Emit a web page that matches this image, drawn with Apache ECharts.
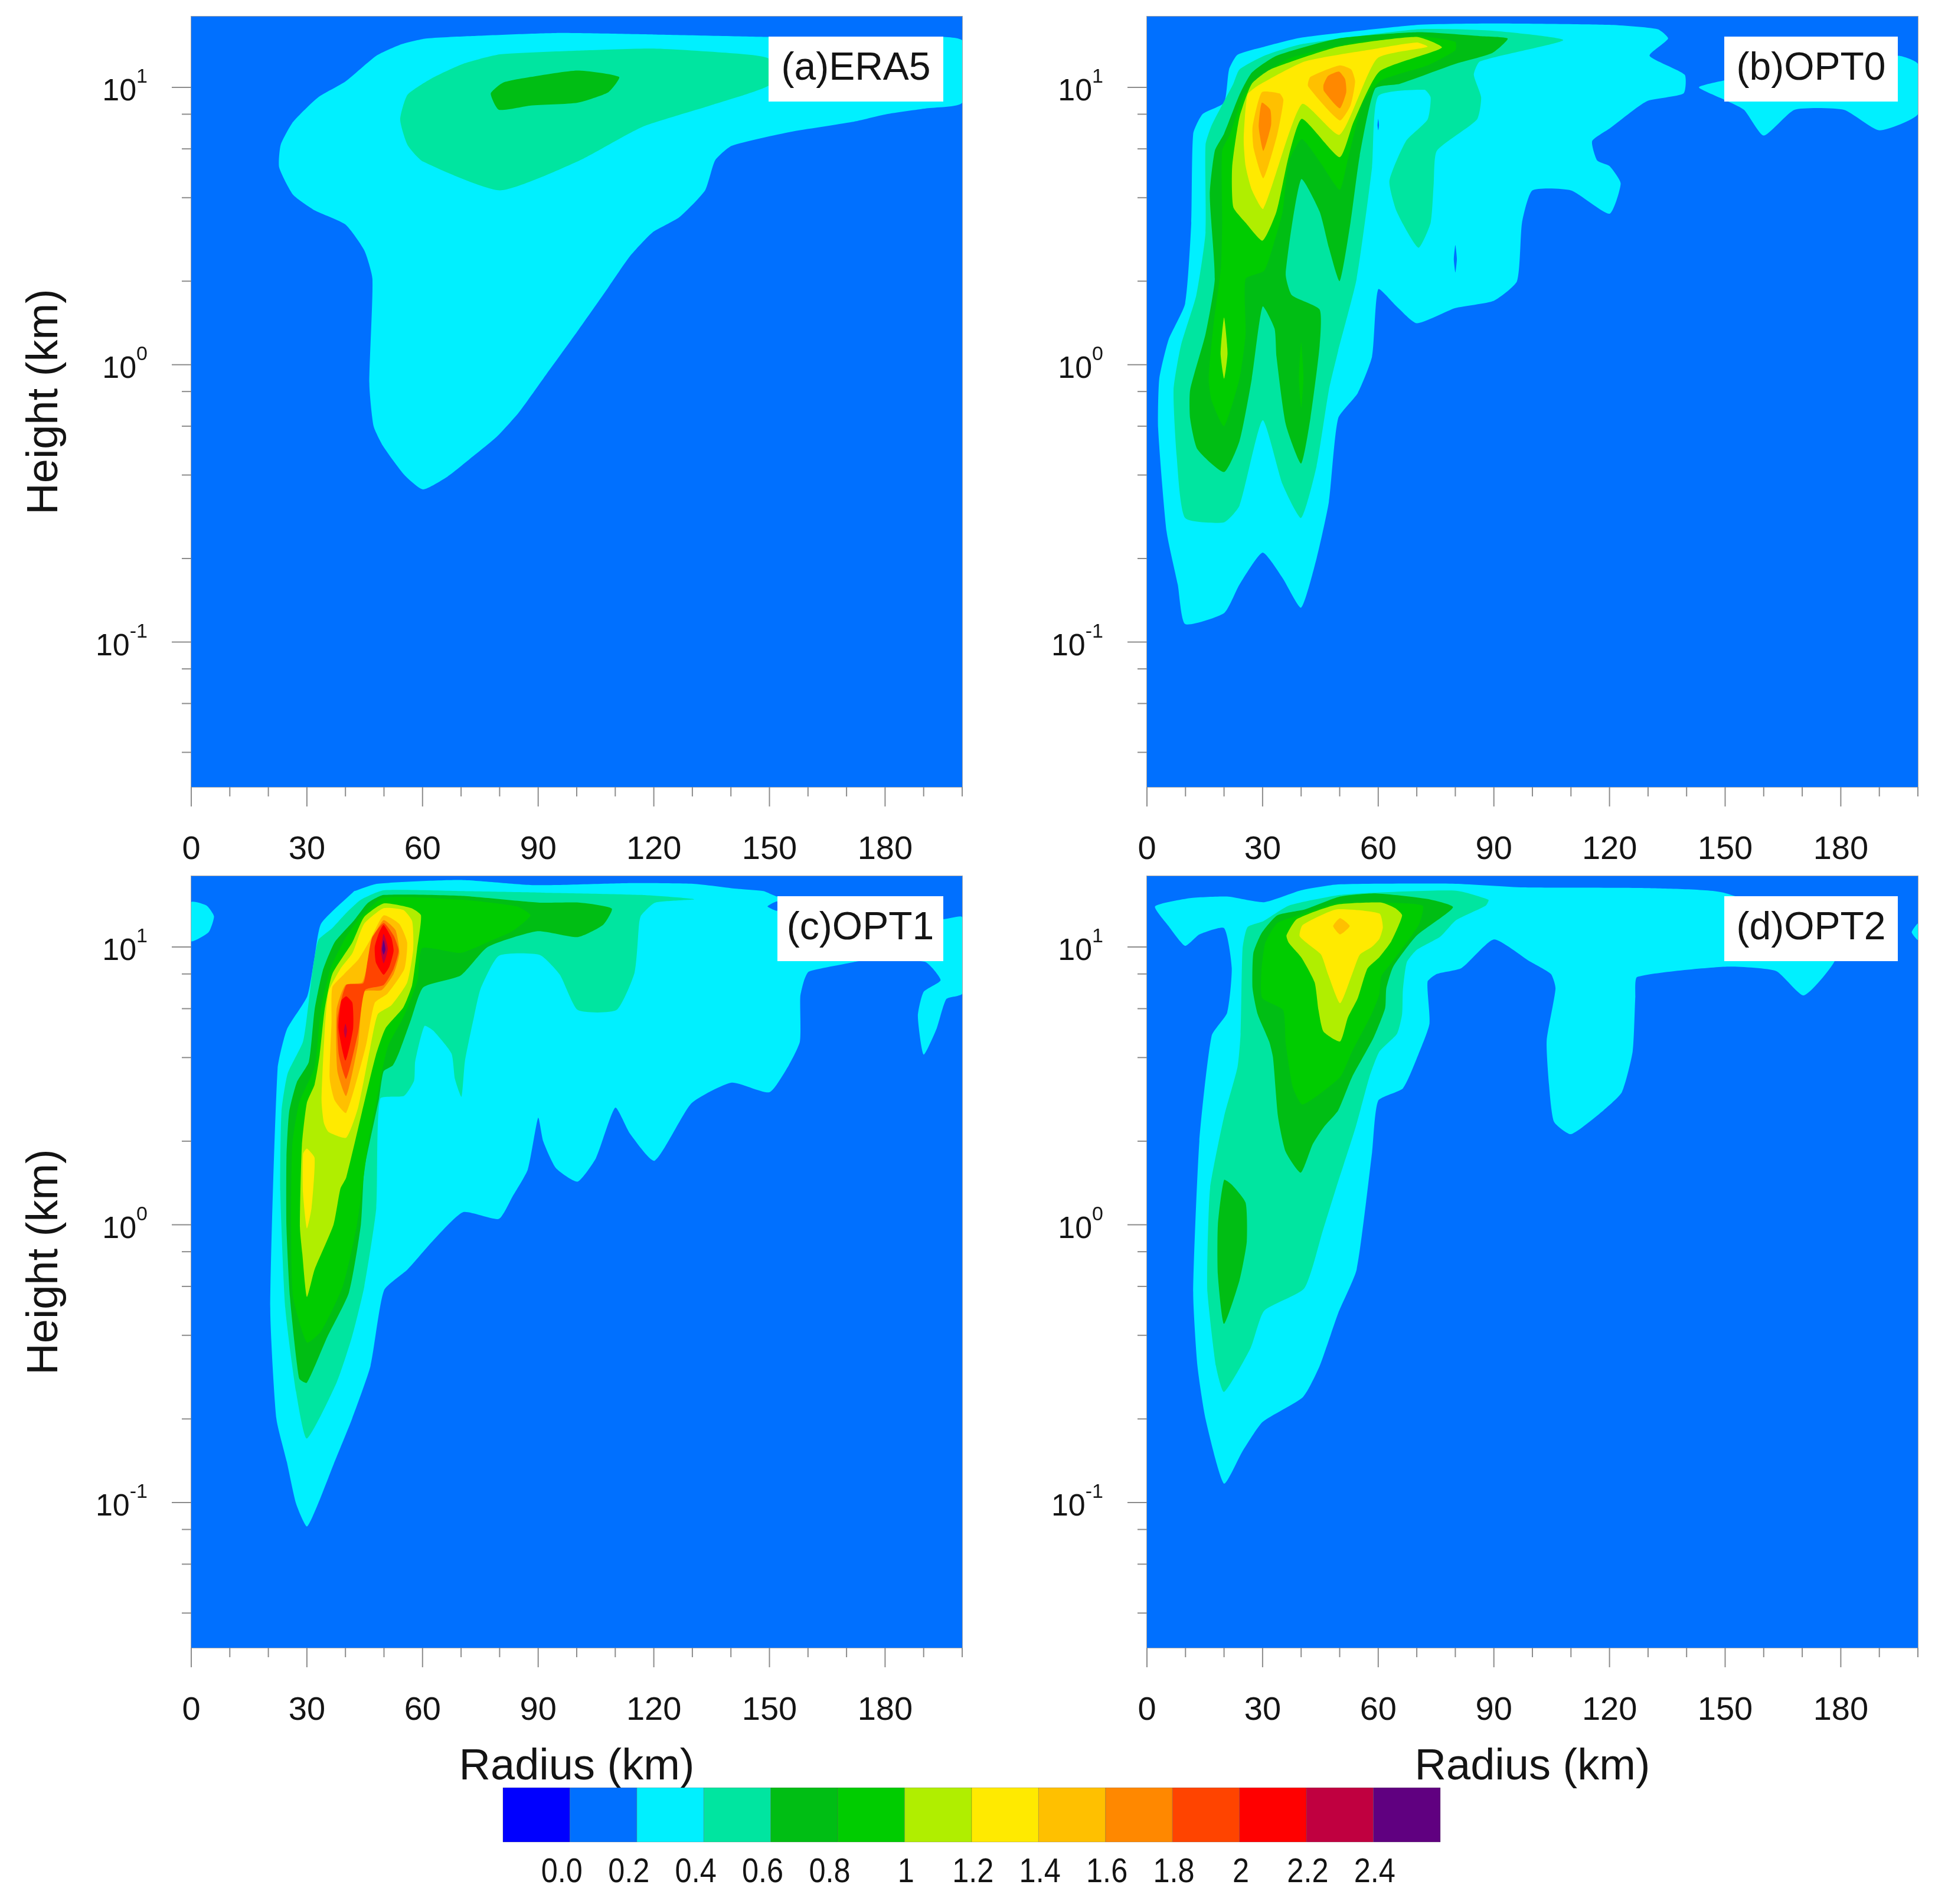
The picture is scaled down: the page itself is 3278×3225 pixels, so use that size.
<!DOCTYPE html>
<html>
<head>
<meta charset="utf-8">
<style>html,body{margin:0;padding:0;background:#fff}#c{width:3278px;height:3225px}</style>
<script src="https://cdn.jsdelivr.net/npm/echarts@6/dist/echarts.min.js"></script>
</head>
<body>
<div id="c"></div>
<script>
const levelColors = ['#0000FF','#0070FF','#00F0FF','#00E5A0','#00BE14','#00CC00','#B0EE00','#FFEA00','#FFC000','#FF8800','#FF4400','#FF0000','#C00040','#600080'];
const levelLabels = ['0.0','0.2','0.4','0.6','0.8','1','1.2','1.4','1.6','1.8','2','2.2','2.4'];
const radiusRange = [0, 200];
const heightRange = [0.03, 18];
const radiusMajorTicks = [0,30,60,90,120,150,180];
const radiusMinorTicks = [10,20,40,50,70,80,100,110,130,140,160,170,190,200];
const heightMajorTicks = [0.1,1,10];
const heightMinorTicks = [0.04,0.06,0.08,0.2,0.4,0.6,0.8,2,4,6,8];
const panelNames = ['(a)ERA5','(b)OPT0','(c)OPT1','(d)OPT2'];

// Each entry: [colour level, [[radius km, height km], ...]]
const contoursERA5 = [
 [2,[[60.9,15],[72,15.3],[94.6,15.7],[120,15.5],[149,15.2],[175,15],[200,14.8],[200,8.8],[190.7,8.4],[180.3,8],[171.5,7.5],[155.4,6.9],[140.2,6.15],[135.9,5.45],[133.3,4.25],[126.6,3.4],[119.7,3],[113.8,2.46],[108.2,1.9],[100.2,1.32],[91.3,.89],[84.9,.67],[79.3,.55],[72.1,.455],[66.5,.395],[60.1,.355],[55.3,.4],[49.7,.51],[47.3,.6],[46.2,.85],[47,2.04],[44.9,2.58],[40,3.2],[32,3.6],[26.4,4.1],[22.8,5.15],[23.2,6.2],[26.4,7.5],[32.9,9.2],[40,10.5],[48,13],[54.5,14.3]]],
 [3,[[80.1,13.15],[102.6,13.6],[120,13.8],[139.4,13.3],[149.8,12.7],[150.6,10.3],[134.6,8.6],[117,7.2],[100.2,5.4],[80.1,4.25],[60.1,5.4],[56.1,6.2],[54.2,7.65],[56.1,9.4],[62.5,10.8],[70.5,12.15]]],
 [4,[[79.8,8.3],[77.7,9.5],[80.9,10.4],[88.1,10.9],[100.2,11.5],[111,10.9],[108.2,9.6],[100.2,8.8],[88.1,8.6]]]
];
const contoursOPT0 = [
 [2,[[9.9,.116],[20,.127],[24,.161],[30,.21],[35.2,.17],[40,.133],[44,.2],[47.2,.32],[49.6,.64],[54.7,.79],[58.4,1.07],[60,1.87],[64.8,1.62],[70,1.41],[80,1.6],[90,1.7],[96,2],[97.3,3.25],[100,4.25],[110,4.25],[120,3.5],[122.9,4.5],[120,5.2],[116.8,5.45],[115.5,6.4],[120,7.1],[129.6,8.9],[139.2,9.5],[139.5,11.1],[130.4,13],[135.2,15],[132.5,16.2],[120,16.8],[89.6,17],[70.4,16.8],[40,15.1],[30.4,14],[23.5,13.1],[21.3,11.6],[20,8.8],[14.4,8],[12,6.8],[11.5,3.25],[9.9,1.66],[5.6,1.23],[3.2,.89],[2.9,.59],[5.1,.25],[8,.161]]],
 [2,[[143.2,10],[150,10.6],[175,12],[195,13],[200,12.15],[200,8],[190,7],[180.8,8.3],[168,8.3],[160,6.7],[154.9,8.3],[150,9]]],
 [1,[[80,2.7],[80.4,2.4],[80,2.15],[79.6,2.4]]],
 [1,[[60,7.7],[60.2,7.3],[60,7],[59.8,7.3]]],
 [3,[[16.8,7.3],[22.4,10.3],[24,11.6],[30.4,13],[40,14.3],[70.4,16.2],[89.6,16],[108,14.8],[86.4,12.4],[84.8,11.1],[86.7,9.2],[85.6,7.65],[75.2,5.9],[74.4,4.5],[73.6,3.25],[70.4,2.64],[64.8,3.56],[62.9,4.6],[67.2,6.4],[72.8,7.65],[73.6,9.2],[72,9.8],[60,9.3],[58.4,5.15],[54.4,2.04],[49.6,1.12],[47.2,.81],[44,.43],[40,.28],[35.2,.37],[30,.63],[24,.31],[20,.27],[9.9,.28],[7.7,.47],[6.9,.81],[8.8,1.17],[12.8,1.78],[15.2,3],[15.2,6.2]]],
 [4,[[13.1,.495],[20,.41],[24,.53],[27.2,.89],[30,1.62],[33.1,1.35],[33.6,1.07],[36,.61],[40,.44],[42.4,.64],[44.8,1.17],[44.8,1.58],[37.6,1.78],[36,2.13],[40,4.66],[44.8,3.56],[47.2,2.64],[50,2],[52.8,3.25],[55.2,5.66],[59.2,9.9],[65.6,10.3],[80,12.15],[89.6,13.3],[93.6,15],[86.4,15.3],[70.4,15.8],[49.6,15],[33.6,13],[27.2,11.3],[24,9.4],[20,6.8],[17.6,5.9],[16.3,4.1],[17.6,2.04],[15.2,1.29],[11.2,.81],[11.2,.64]]],
 [5,[[20,.6],[24,.89],[25.6,1.29],[25.6,2.04],[30.4,2.18],[32.8,2.7],[35.2,3.56],[36.8,5.4],[40.2,6.5],[44.8,5.4],[50,4.27],[52,5.4],[56,8.8],[60.8,10.6],[72.8,12],[80,13.6],[80,14.6],[70.4,15.3],[52.8,14.4],[36.8,12.7],[28,10.6],[24.8,9.2],[21.6,6.8],[19.5,5.9],[19.5,3.25],[19.2,2.24],[17.3,1.41],[16,.89],[16.8,.74]]],
 [5,[[40,1.2],[40.6,.9],[40,.7],[39.4,.9]]],
 [6,[[30,2.8],[33.6,3.56],[36.8,5.66],[40.2,7.7],[50,5.6],[53.6,7.5],[60.3,11.4],[76.5,13.9],[70,15.2],[49.6,14],[32,11.6],[27.2,10.3],[24,7.8],[22.1,5.15],[22.4,3.7],[25.6,3.25]]],
 [6,[[20,1.48],[20.9,1.1],[20,.89],[19.1,1.1]]],
 [7,[[30.2,3.65],[40.2,8.7],[50,6.75],[59.7,12.7],[72.8,14],[70,14.5],[59.7,13.8],[41,12.4],[29.1,10.2],[26.1,9.4],[25.1,6.5],[25.6,5.2],[27.2,4.27]]],
 [8,[[30.2,4.7],[27.7,6],[27.4,7.2],[29.8,9.6],[34.4,9.5],[35.4,9],[33.8,6.75]]],
 [8,[[50,7.6],[41.8,10.1],[42.4,10.9],[50,12],[53,11.6],[54,10.5],[52.8,8.6]]],
 [9,[[30.2,5.9],[29,7.2],[29.8,8.8],[32,8.3],[32.2,7.3]]],
 [9,[[50,8.4],[45.9,9.7],[45.8,10.2],[47,11],[49.8,11.4],[51.4,10.7],[51.7,9.6]]]
];
const contoursOPT1 = [
 [2,[[42.3,15.9],[48.2,16.9],[69.8,17.44],[89.2,16.7],[114.4,17],[130.2,16.9],[141.8,16.2],[148.4,15.9],[152,15.2],[195.2,12.6],[200,12.8],[200,6.8],[195.9,6.5],[193.4,5.1],[190,4.1],[188.5,5.65],[190,6.9],[194.4,7.6],[190.3,8.85],[173.4,8.9],[171.4,8.8],[160.2,8.16],[159,7.6],[158,6.63],[157.9,4.57],[155,3.75],[150,3],[140.2,3.25],[129.8,2.74],[120.2,1.7],[113.8,2.13],[110,2.64],[105,1.74],[100.2,1.43],[94.6,1.6],[91.3,2],[90,2.43],[87.3,1.58],[83.3,1.26],[79.8,1.05],[70.5,1.11],[62.5,.87],[56.1,.69],[50,.58],[46.5,.31],[41.7,.2],[36.9,.137],[32.9,.099],[30,.082],[27.2,.099],[24.8,.14],[22.1,.2],[20.5,.5],[22.4,3.65],[24.8,5.05],[30.1,6.65],[32,9.2],[33.7,12.15],[42.5,16]]],
 [2,[[0,14.5],[4,14.1],[5.9,12.9],[4.5,11.3],[0,10.5]]],
 [1,[[149.5,14],[152,14.6],[152,13.5]]],
 [3,[[49,2.84],[55.2,2.91],[57.8,3.3],[58.1,3.88],[60.5,5.2],[62.8,5],[67.5,4.14],[68.4,3.35],[70.1,2.89],[71,3.88],[73.4,5.65],[75.1,7.1],[79.8,9.3],[90.4,9.37],[95.6,7.96],[100.3,5.93],[110.3,5.93],[115,8.09],[116.2,12.2],[116.7,13],[120.3,14.45],[130.5,14.86],[116.7,15.4],[91,15.7],[69.9,15.9],[49.9,16],[44,14.8],[40.3,13.3],[36.6,11.7],[33,10.6],[31.5,8.3],[30.5,6.4],[29,4.57],[25,3.5],[23.4,2.55],[23.1,1.32],[24.4,.5],[27.2,.25],[30,.17],[37.7,.27],[41.7,.395],[44.9,.6],[48,1.15]]],
 [4,[[49.9,3.57],[52.3,3.75],[54,4.2],[57,5.47],[60.2,7.16],[69.9,7.9],[76.9,10],[89.8,11.4],[100.3,10.86],[106.8,12],[109.1,13.76],[100.9,14.45],[90.4,14.45],[69.9,15.3],[49.9,15.4],[45.8,14.4],[42.3,12.5],[37.2,10.4],[34.1,8.2],[32,5.95],[30.5,3.86],[27.4,3.26],[25.4,2.55],[24.7,1.75],[24.7,.98],[25.6,.55],[28,.28],[30,.27],[35.3,.395],[40.9,.57],[44,1],[44.9,1.58],[48.7,2.84]]],
 [5,[[48.2,2.84],[49.6,3.63],[51.1,4.42],[55.2,5.65],[58.7,7.58],[59.9,9.9],[69.9,9.53],[77.5,10.5],[83.3,11.4],[88,13],[84.5,14],[70.4,14.8],[49.9,15.06],[43.8,12.8],[39.7,10.6],[36.1,8.35],[33.6,5.95],[32,3.7],[28,2.75],[26.2,1.93],[25.9,.98],[26.4,.55],[30,.377],[33.7,.414],[39.3,.6],[43,1],[46,2]]],
 [6,[[49.9,14.35],[57.1,13.8],[59.6,13],[58.6,9.86],[57.3,7.3],[55,6.06],[50.4,5.1],[47.9,4.08],[44.3,2.55],[40.2,1.48],[38.7,1.35],[36.9,1],[32,.69],[30,.55],[28.8,.79],[28.2,.98],[28.7,1.93],[30,2.75],[32,3.2],[33.3,4.08],[34.6,5.95],[36.6,8],[41.8,10.4],[44.8,12.8]]],
 [7,[[40.2,2.06],[35.6,2.16],[34.4,2.33],[33.8,2.81],[34.6,4.93],[35.6,6.9],[38.7,8.35],[41.8,9.5],[44.8,12.1],[49.9,13.8],[55,13.6],[57.3,12.4],[57.6,9.86],[56,7.45],[51.9,6.17],[48.4,5.73],[46.4,4.32],[43.3,2.65]]],
 [7,[[30,1.88],[32,1.74],[31.2,1.15],[30,.97],[29,1.3],[29,1.8]]],
 [8,[[40.2,2.53],[37.2,2.81],[35.9,3.38],[36.4,5.4],[36.6,7.17],[39.7,8],[43.3,9],[46.4,10.6],[49.9,13],[54,12.1],[56,10.4],[55.3,8.35],[50.9,6.8],[47.6,6.3],[45.3,4.4]]],
 [9,[[40.2,2.91],[37.9,3.58],[37.7,5.95],[40,7.3],[44.3,7.45],[45.3,8.2],[46.9,10.6],[49.9,12.5],[53,11.5],[54,9.5],[52.5,8],[49.4,7],[44.8,6.9],[43.3,4.49]]],
 [10,[[40.2,3.35],[38.3,4.08],[37.9,5.5],[40.2,7.3],[44.6,7.4],[45.6,8.65],[46.9,10.8],[49.9,12.2],[52.5,11],[53.8,9.7],[52.5,8.35],[49.9,7.3],[45.1,7],[43.3,4.93]]],
 [11,[[49.9,7.95],[47.9,8.8],[47.6,10],[48.7,11.25],[49.9,12],[51.9,10.8],[52.5,9.7],[51.4,8.5]]],
 [11,[[40,3.9],[38.2,5.1],[38.9,6.4],[40.2,6.65],[41.8,6.3],[42,5.1]]],
 [12,[[49.9,8.73],[49.2,9.7],[49.9,11.15],[51,9.86]]],
 [13,[[49.9,9.4],[49.5,9.8],[49.9,10.6],[50.4,9.8]]],
 [12,[[40,5.3],[39.6,5],[40,4.7],[40.4,5]]]
];
const contoursOPT2 = [
 [2,[[2.1,14],[11.2,15],[20.8,15.2],[30.4,14.5],[40,16],[49.6,16.8],[80,16.9],[97.6,16.4],[129.6,16.3],[149.6,15.7],[177.6,11],[178.4,8.9],[170.4,6.7],[163.2,8.2],[150.4,8.5],[127.2,7.8],[126.7,6.65],[126,4.2],[123.2,3],[118.4,2.58],[110,2.12],[105.6,2.35],[104.3,3.2],[103.7,4.6],[106,7.1],[104.8,8],[99.2,8.9],[90,10.65],[81.6,8.4],[75.2,8],[72.8,7.5],[73.3,5.3],[70.4,4.1],[66.4,3.1],[60,2.8],[58.4,1.82],[54.4,.69],[49.6,.48],[44.8,.31],[40.5,.24],[30,.195],[24.8,.153],[20,.117],[15.2,.2],[13.1,.31],[12,.57],[13.6,2],[16.8,4.8],[20.8,5.8],[22,8.4],[20,11.7],[13.6,11.1],[9.9,10.1],[5.6,11.9]]],
 [2,[[200,12.15],[198.4,11.3],[200,10.6]]],
 [3,[[88.6,14.8],[87.9,14.1],[80.2,12.5],[76.1,10.9],[70,9.77],[67.4,8.8],[66.4,7],[66.2,5.74],[64.9,4.88],[60.3,4.2],[57.7,3.4],[54.2,2.26],[49.1,1.36],[45.6,.95],[40.8,.59],[30.4,.49],[26.9,.36],[20,.25],[17.9,.31],[15.7,.57],[15.7,.79],[16.4,1.36],[20,2.45],[23.5,3.7],[24.3,4.88],[24.8,9.85],[26.1,11.8],[30.2,12.4],[36.8,14.1],[50.1,15.4],[59.3,15.7],[80.2,15.95]]],
 [4,[[79.4,13.9],[72.6,14.9],[59.3,15.6],[50.1,15.2],[40.9,13.65],[33.8,13],[29.7,11.2],[27.6,9.5],[27.4,7.1],[28.7,5.74],[31.7,4.57],[32.7,4],[34,2.45],[36,1.83],[39.9,1.54],[43,1.95],[46,2.26],[49.6,2.58],[53.2,3.4],[58.8,4.72],[61.8,6.03],[62.1,7.1],[63.9,8.5],[70,11]]],
 [4,[[20,1.45],[22.1,1.39],[25.6,1.2],[25.9,.87],[24,.63],[20,.44],[18.4,.66],[18.4,1]]],
 [5,[[40.4,2.71],[50.1,3.4],[53.2,4.2],[58.3,5.74],[60.3,6.76],[60.8,7.84],[63.9,8.93],[70.5,12],[71.5,14.1],[59.3,14.46],[49.1,14.34],[39.9,13.1],[33.8,12.2],[30.7,10.35],[29.7,8.23],[29.9,6.55],[35.3,5.93],[36,4.5],[37.8,3.14]]],
 [6,[[50.1,4.57],[45.8,4.96],[44.5,5.93],[43.5,7.46],[40.1,9.15],[36.8,10.35],[36.2,11],[38.9,12.6],[49.1,14.2],[60.8,14.46],[64.4,13.8],[66.2,13],[63.4,10.5],[60.3,9.2],[57.2,8.37],[54.7,6.55],[52.1,5.56]]],
 [7,[[50.1,6.28],[47,7.97],[45.2,9.38],[42.4,10.1],[39.6,10.95],[40.4,12],[49.1,13.65],[60.3,13.2],[61.2,11.8],[60.3,10.7],[58.3,10],[55.2,9.38],[53.2,7.97]]],
 [8,[[50.1,12.7],[52.6,11.9],[50.1,11.1],[48.3,11.9]]]
];
const panelContours = [contoursERA5, contoursOPT0, contoursOPT1, contoursOPT2];

const panelBoxes = [
 {left:324, top:28, width:1306, height:1305},
 {left:1943, top:28, width:1306, height:1305},
 {left:324, top:1484, width:1306, height:1307},
 {left:1943, top:1484, width:1306, height:1307}
];
const labelBoxes = [[1302,62,296,110],[2921,62,294,110],[1317,1518,281,110],[2921,1518,294,110]];
const FONT = '"Liberation Sans", Arial, sans-serif';
const INK = '#141414';

const grids=[], xAxes=[], yAxes=[], series=[], graphic=[];

function rowsFor(contours){ return contours.map((c,i)=>[c[1][0][0], c[1][0][1], i]); }
const baseContour = [1,[[radiusRange[0],heightRange[0]],[radiusRange[1],heightRange[0]],[radiusRange[1],heightRange[1]],[radiusRange[0],heightRange[1]]]];

panelBoxes.forEach((box,p)=>{
  grids.push(Object.assign({show:true, borderColor:'#a8a8a8', borderWidth:2, backgroundColor:'transparent', containLabel:false}, box));
  const bottomRow = p>=2, leftCol = p%2===0;
  xAxes.push({
    type:'value', gridIndex:p, min:radiusRange[0], max:radiusRange[1], interval:30, splitLine:{show:false},
    axisLine:{show:true, lineStyle:{color:'#a8a8a8',width:2}}, axisTick:{show:false},
    axisLabel:{show:true, margin:79, fontFamily:FONT, fontSize:56, color:INK, showMaxLabel:false, hideOverlap:false},
    name: bottomRow?'Radius (km)':'', nameLocation:'middle', nameGap:166,
    nameTextStyle:{fontFamily:FONT, fontSize:74, color:INK}
  });
  yAxes.push({
    type:'log', logBase:10, gridIndex:p, min:heightRange[0], max:heightRange[1], splitLine:{show:false}, minorTick:{show:false}, minorSplitLine:{show:false},
    axisLine:{show:true, lineStyle:{color:'#a8a8a8',width:2}}, axisTick:{show:false},
    axisLabel:{show:true, margin:74, showMinLabel:false, showMaxLabel:false, hideOverlap:false, fontFamily:FONT, fontSize:52, color:INK,
      formatter:function(v){
        const e=Math.log10(v);
        if(Math.abs(e-Math.round(e))>1e-6) return '';
        return '{b|10}{s|'+Math.round(e)+'}';
      },
      rich:{b:{fontFamily:FONT,fontSize:52,color:INK,verticalAlign:'bottom',lineHeight:52}, s:{fontFamily:FONT,fontSize:34,color:INK,verticalAlign:'top',lineHeight:68}}
    },
    name: leftCol?'Height (km)':'', nameLocation:'middle', nameRotate:90, nameGap:210,
    nameTextStyle:{fontFamily:FONT, fontSize:74, color:INK}
  });
  const contours=[baseContour].concat(panelContours[p]);
  series.push({
    type:'custom', name:panelNames[p], coordinateSystem:'cartesian2d', xAxisIndex:p, yAxisIndex:p, silent:true, animation:false, z:2, clip:true,
    encode:{x:0,y:1},
    data:rowsFor(contours),
    renderItem:function(params,api){
      const c=contours[api.value(2)];
      const isBase=api.value(2)===0;
      return {type:'polygon', shape:{points:c[1].map(pt=>api.coord(pt)), smooth:isBase?0:0.18}, style:{fill:levelColors[c[0]]}};
    }
  });
  const tickRows=[];
  radiusMajorTicks.forEach(v=>tickRows.push([v,heightRange[0],0,1]));
  radiusMinorTicks.forEach(v=>tickRows.push([v,heightRange[0],0,0]));
  heightMajorTicks.forEach(v=>tickRows.push([radiusRange[0],v,1,1]));
  heightMinorTicks.forEach(v=>tickRows.push([radiusRange[0],v,1,0]));
  series.push({
    type:'custom', coordinateSystem:'cartesian2d', xAxisIndex:p, yAxisIndex:p, silent:true, animation:false, clip:false, z:3,
    encode:{x:0,y:1}, data:tickRows,
    renderItem:function(params,api){
      const xy=api.coord([api.value(0),api.value(1)]);
      const len=api.value(3)?33:16;
      const vertical=api.value(2)===0;
      return {type:'line', shape:{x1:xy[0],y1:xy[1],x2:vertical?xy[0]:xy[0]-len,y2:vertical?xy[1]+len:xy[1]}, style:{stroke:'#8c8c8c',lineWidth:2}};
    }
  });
  const lb=labelBoxes[p];
  graphic.push({type:'rect', z:50, shape:{x:lb[0],y:lb[1],width:lb[2],height:lb[3]}, style:{fill:'#fff'}});
  graphic.push({type:'text', z:51, x:lb[0]+lb[2]/2, y:lb[1]+lb[3]/2, style:{text:panelNames[p], fontFamily:FONT, fontSize:66, fill:INK, align:'center', verticalAlign:'middle'}});
});

// Colour bar: its own grid, one box per level
const barIndex=panelBoxes.length;
grids.push({left:852, top:3028, width:1588, height:92});
xAxes.push({type:'value', gridIndex:barIndex, min:0, max:levelColors.length, show:false});
yAxes.push({type:'value', gridIndex:barIndex, min:0, max:1, show:false});
series.push({
  type:'custom', coordinateSystem:'cartesian2d', xAxisIndex:barIndex, yAxisIndex:barIndex, silent:true, animation:false, clip:false, z:2,
  encode:{x:0,y:1}, data:levelColors.map((c,i)=>[i,0]),
  renderItem:function(params,api){
    const i=api.value(0), a=api.coord([i,1]), b=api.coord([i+1,0]);
    return {type:'rect', shape:{x:a[0],y:a[1],width:b[0]-a[0],height:b[1]-a[1]}, style:{fill:levelColors[i],stroke:'rgba(60,60,60,0.25)',lineWidth:1}};
  }
});
series.push({
  type:'custom', coordinateSystem:'cartesian2d', xAxisIndex:barIndex, yAxisIndex:barIndex, silent:true, animation:false, clip:false, z:3,
  encode:{x:0,y:1}, data:levelLabels.map((t,i)=>[i+1,0]),
  renderItem:function(params,api){
    const i=api.value(0)-1, at=api.coord([i+1+(i<5?-0.12:0.02),0]);
    return {type:'text', x:at[0], y:at[1]+52, scaleX:0.87, style:{text:levelLabels[i], fontFamily:FONT, fontSize:58, fill:INK, align:'center', verticalAlign:'middle'}};
  }
});

const chart=echarts.init(document.getElementById('c'),null,{renderer:'canvas'});
chart.setOption({animation:false, backgroundColor:'#fff', grid:grids, xAxis:xAxes, yAxis:yAxes, series:series, graphic:graphic});
</script>
</body>
</html>
